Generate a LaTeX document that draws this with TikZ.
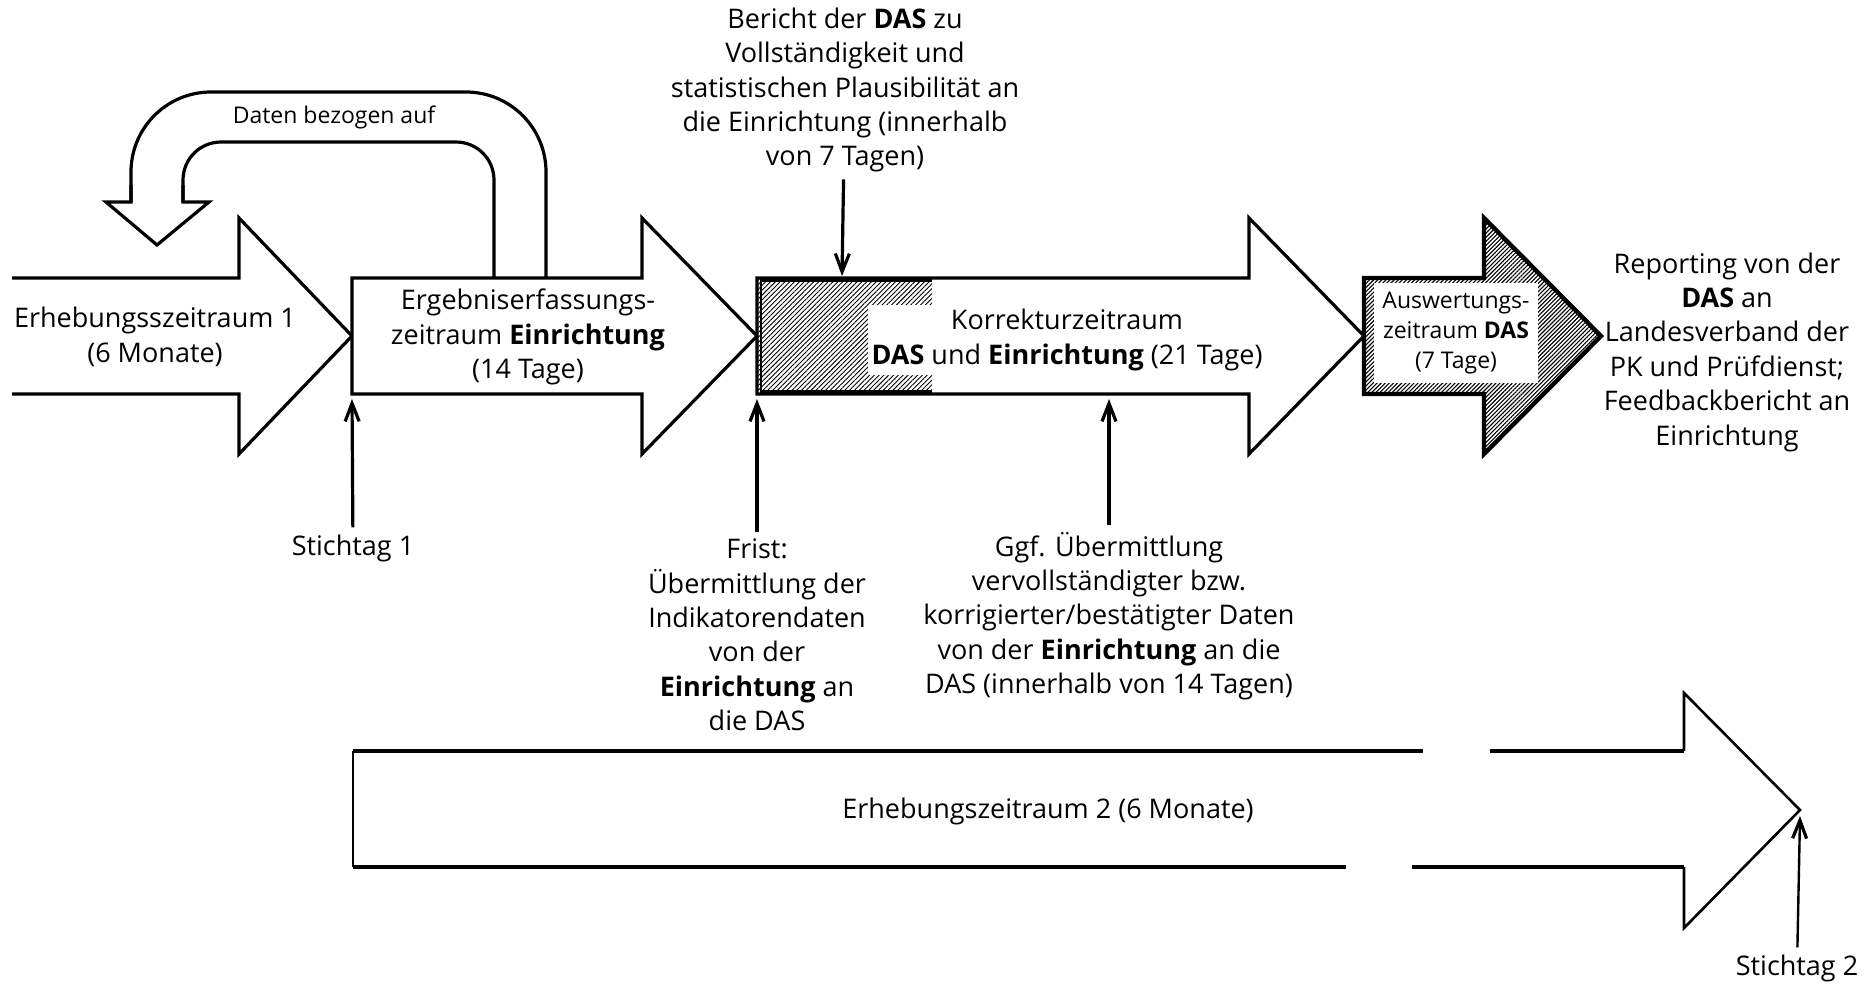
\documentclass[tikz,border=0pt]{standalone}
\usepackage{fontspec}
\setmainfont{Open Sans}
\usepackage{tikz}
\usetikzlibrary{arrows.meta,patterns,patterns.meta}

\begin{document}
\begin{tikzpicture}[x=0.5pt,y=-0.5pt,
  pfeil/.style={line width=1.6pt,-{Straight Barb[length=9pt,width=7pt,line width=1.6pt]}},
  umriss/.style={line width=1.6pt,line join=miter,fill=white},
  schraffur/.style={pattern={Lines[angle=45,distance=1.7pt,line width=0.45pt]}},
  schraffurdicht/.style={pattern={Lines[angle=45,distance=1.45pt,line width=0.55pt]}},
  txt/.style={align=center,font=\fontsize{13.5}{17.2}\selectfont},
  klein/.style={align=center,font=\fontsize{11.5}{15}\selectfont}]
\useasboundingbox (0,0) rectangle (1872,985);

% Erhebungszeitraum 1 (links offen)
\draw[umriss] (12,278) -- (239,278) -- (239,218) -- (352,336) -- (239,454) -- (239,394) -- (12,394);
\node[txt] (erhebung1) at (155,337) {Erhebungsszeitraum 1\\(6 Monate)};

% Ergebniserfassungszeitraum
\draw[umriss] (352,278) -- (642,278) -- (642,218) -- (757,336) -- (642,454) -- (642,394) -- (352,394) -- cycle;
\node[txt] (ergebnis) at (528,337) {Ergebniserfassungs-\\zeitraum \textbf{Einrichtung}\\(14 Tage)};

% Rueckbezug "Daten bezogen auf"
\draw[line width=1.6pt,rounded corners=19pt] (494,278) -- (494,142) -- (183,142) -- (183,202);
\draw[line width=1.6pt,rounded corners=40pt] (546,278) -- (546,92) -- (131,92) -- (131,202);
\draw[line width=1.6pt,line join=miter] (183,185) -- (183,202) -- (209,202) -- (157,245) -- (106,202) -- (131,202) -- (131,185);
\node[klein] (daten) at (334,117) {Daten bezogen auf};

% Korrekturzeitraum
\draw[umriss] (757,278) -- (1249,278) -- (1249,218) -- (1364,336) -- (1249,454) -- (1249,394) -- (757,394) -- cycle;
\fill[schraffur] (757,278) rectangle (932,394);
\draw[line width=1.1pt] (932,280.5) -- (761,280.5) -- (761,391.5) -- (932,391.5);
\node[txt,fill=white,inner sep=2pt] (korrektur) at (1067,340) {Korrekturzeitraum\\\textbf{DAS} und \textbf{Einrichtung} (21 Tage)};

% Auswertungszeitraum
\draw[line width=2.2pt,line join=miter,schraffurdicht] (1364,278) -- (1484,278) -- (1484,218) -- (1601,336) -- (1484,454) -- (1484,394) -- (1364,394) -- cycle;
\node[klein,fill=white,minimum width=82pt,minimum height=50pt,inner sep=1pt] (auswertung) at (1456,333) {Auswertungs-\\zeitraum \textbf{DAS}\\(7 Tage)};

% Erhebungszeitraum 2 (mit Luecken)
\draw[line width=1.3pt] (353,751) -- (353,867);
\foreach \a/\b/\y in {353/1423/751, 1490/1684/751, 353/1346/867, 1412/1684/867}
  \draw[line width=1.9pt] (\a,\y) -- (\b,\y);
\draw[line width=1.3pt,line join=miter] (1684,751) -- (1684,693) -- (1800,810) -- (1684,928) -- (1684,867);
\node[txt] (erhebung2) at (1048,811) {Erhebungszeitraum 2 (6 Monate)};

% Beschriftungen
\node[txt] (bericht) at (845,90) {Bericht der \textbf{DAS} zu\\Vollständigkeit und\\statistischen Plausibilität an\\die Einrichtung (innerhalb\\von 7 Tagen)};
\node[txt] (reporting) at (1727,352) {Reporting von der\\\textbf{DAS} an\\Landesverband der\\PK und Prüfdienst;\\Feedbackbericht an\\Einrichtung};
\node[txt] (stichtag1) at (353,548) {Stichtag 1};
\node[txt] (frist) at (757,635) {Frist:\\Übermittlung der\\Indikatorendaten\\von der\\\textbf{Einrichtung} an\\die DAS};
\node[txt] (ggf) at (1109,616) {Ggf. Übermittlung\\vervollständigter bzw.\\korrigierter/bestätigter Daten\\von der \textbf{Einrichtung} an die\\DAS (innerhalb von 14 Tagen)};
\node[txt] (stichtag2) at (1797,968) {Stichtag 2};

% Pfeile zu den Zeitpunkten
\coordinate (k3oben) at (842,276);
\coordinate (a2unten) at (352,399);
\coordinate (a3unten) at (757,399);
\coordinate (ggfziel) at (1109,399);
\coordinate (a5spitze) at (1800,816);
\foreach \von/\nach in {bericht/k3oben, stichtag1/a2unten, frist/a3unten, ggf/ggfziel}
  \draw[pfeil] (\von) -- (\nach);
\draw[pfeil,line width=1.2pt] (stichtag2) -- (a5spitze);
\end{tikzpicture}
\end{document}
